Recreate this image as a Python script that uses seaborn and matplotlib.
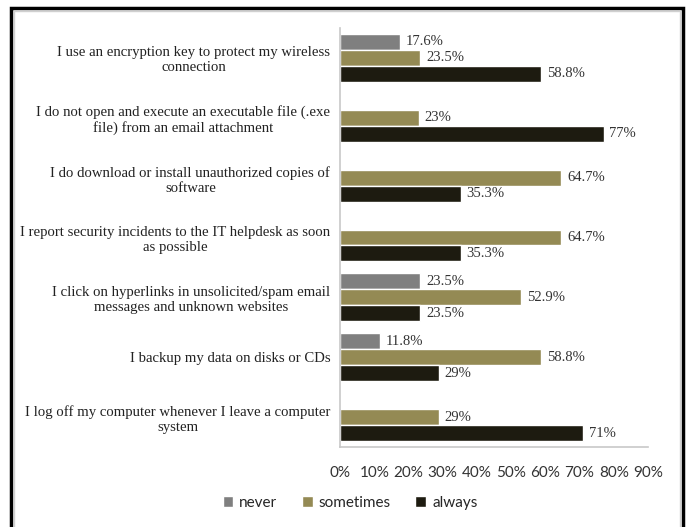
import matplotlib
matplotlib.use("Agg")
import matplotlib.pyplot as plt
import seaborn as sns
import pandas as pd
from matplotlib.patches import Rectangle

categories = [
    "I use an encryption key to protect my wireless\nconnection",
    "I do not open and execute an executable file (.exe\nfile) from an email attachment",
    "I do download or install unauthorized copies of\nsoftware",
    "I report security incidents to the IT helpdesk as soon\nas possible",
    "I click on hyperlinks in unsolicited/spam email\nmessages and unknown websites",
    "I backup my data on disks or CDs",
    "I log off my computer whenever I leave a computer\nsystem",
]
series = ["never", "sometimes", "always"]
never = [17.6, 0, 0, 0, 23.5, 11.8, 0]
sometimes = [23.5, 23, 64.7, 64.7, 52.9, 58.8, 29]
always = [58.8, 77, 35.3, 35.3, 23.5, 29, 71]
xticks = [0, 10, 20, 30, 40, 50, 60, 70, 80, 90]
colors = ["#7f7f7f", "#948a54", "#1d1b10"]

rows = []
for name, vals in zip(series, [never, sometimes, always]):
    for c, v in zip(categories, vals):
        rows.append({"statement": c, "response": name, "pct": v})
df = pd.DataFrame(rows)

sns.set_style("white")
fig = plt.figure(figsize=(6.91, 5.27), dpi=100)
ax = fig.add_axes([340 / 691, 1 - 447 / 527, 308 / 691, (447 - 28) / 527])

sns.barplot(data=df, y="statement", x="pct", hue="response", order=categories,
            hue_order=series, palette=colors, orient="h", width=0.8,
            saturation=1, ax=ax, legend=True)

for cont in ax.containers:
    labels = [("" if b.get_width() == 0 else f"{b.get_width():g}%") for b in cont]
    ax.bar_label(cont, labels=labels, padding=4, fontsize=10.5,
                 family="Liberation Serif", color="#333333")

ax.set_xlim(0, 90)
ax.set_xticks(xticks)
ax.set_xticklabels([f"{t}%" for t in xticks], family="Lato", fontsize=11, color="#333333")
ax.tick_params(axis="x", length=0, pad=14)
ax.tick_params(axis="y", length=0, pad=7)
for lab in ax.get_yticklabels():
    lab.set_family("Liberation Serif")
    lab.set_fontsize(10.6)
    lab.set_multialignment("center")
    lab.set_color("#222222")
ax.set_xlabel("")
ax.set_ylabel("")
for s in ["top", "right"]:
    ax.spines[s].set_visible(False)
for s in ["left", "bottom"]:
    ax.spines[s].set_color("#c8c8c8")
    ax.spines[s].set_linewidth(1.2)

handles, labels = ax.get_legend_handles_labels()
ax.get_legend().remove()
fig.legend(handles, labels, loc="center", bbox_to_anchor=(350 / 691, 1 - 503 / 527),
           ncol=3, frameon=False, prop={"family": "Lato", "size": 11},
           handlelength=0.7, handleheight=0.7, handletextpad=0.4, columnspacing=1.6)

fig.patches.append(Rectangle((11 / 691, -0.05), (683 - 11) / 691, 1.05 - 8 / 527,
                             transform=fig.transFigure, fill=False,
                             edgecolor="black", linewidth=2.5))
fig.patches.append(Rectangle((14 / 691, -0.05), (680 - 14) / 691, 1.05 - 11 / 527,
                             transform=fig.transFigure, fill=False,
                             edgecolor="#d0d0d0", linewidth=1))

fig.savefig("out.png", dpi=100)
